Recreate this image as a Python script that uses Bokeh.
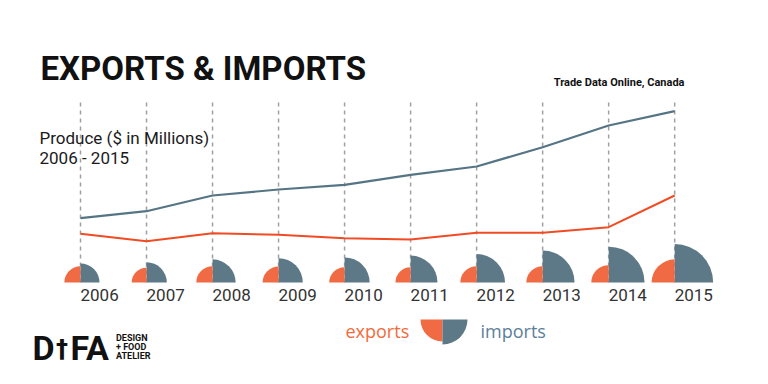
import math
from bokeh.plotting import figure
from bokeh.models import Range1d, Label, ColumnDataSource
from bokeh.core.properties import value
from bokeh.embed import file_html
from bokeh.resources import INLINE

# ---- data (units = relative index height) ----
years = [2006, 2007, 2008, 2009, 2010, 2011, 2012, 2013, 2014, 2015]
imports = [64.3, 71.3, 87.0, 93.0, 97.7, 107.7, 116.0, 135.3, 157.0, 171.3]
exports = [48.7, 41.3, 49.3, 47.7, 44.3, 43.0, 49.7, 49.7, 55.3, 87.0]
year_labels = [str(y) for y in years]

# ---- layout ----
W, H = 752, 368
OFF = 0                    # page offset of the canvas
STEP = 66.02               # px per year
X0 = 2006 - (80 - OFF) / STEP
BASE = 282                 # page y of the zero line
GUIDE_TOP = 182            # top of dashed guides, in data units
BSHIFT = 0.32              # baseline correction (em)

ORANGE = "#F06B44"
ORANGE_LINE = "#F04B23"
SLATE = "#5D7886"
SLATE_LINE = "#557585"


def px(x):
    return X0 + (x - OFF) / STEP


def py(y, fs=0):
    return BASE - (y - BSHIFT * fs)


def radius(v):
    # screen radius of the quarter discs (linear size scale)
    return 7.3 + 0.182 * v


p = figure(width=W, height=H, output_backend="svg", toolbar_location=None,
           x_range=Range1d(X0, X0 + W / STEP),
           y_range=Range1d(BASE - OFF - H, BASE - OFF),
           x_axis_location=None, y_axis_location=None, min_border=0,
           background_fill_color="white", border_fill_color="white")
p.outline_line_color = None
p.grid.visible = False

src = ColumnDataSource(dict(
    x=years, imp=imports, exp=exports, lbl=year_labels,
    zero=[0] * len(years), top=[GUIDE_TOP] * len(years),
    r_imp=[radius(v) for v in imports], r_exp=[radius(v) for v in exports],
))

# dashed guides
p.segment(x0="x", y0="zero", x1="x", y1="top", source=src,
          line_color="#a0a0a0", line_width=1.5, line_dash="4 4")

# lines
p.line("x", "imp", source=src, line_color=SLATE_LINE, line_width=2.2)
p.line("x", "exp", source=src, line_color=ORANGE_LINE, line_width=2)

# quarter discs
p.wedge(x="x", y="zero", radius="r_imp", radius_units="screen",
        start_angle=0, end_angle=math.pi / 2, source=src,
        fill_color=SLATE, line_color=None)
p.wedge(x="x", y="zero", radius="r_exp", radius_units="screen",
        start_angle=math.pi / 2, end_angle=math.pi, source=src,
        fill_color=ORANGE, line_color=None)

# year labels
p.text(x="x", y="zero", text="lbl", source=src, y_offset=17.5 - BSHIFT * 17,
       text_font=value("Roboto"), text_font_size="17px", text_color="#333333",
       text_align="left", text_baseline="alphabetic")


def label(x, y, text, fs, font="Roboto", style="normal", color="#111111", align="left"):
    p.add_layout(Label(x=px(x), y=py(y, fs), text=text, text_font=font,
                       text_font_style=style, text_font_size=f"{fs}px",
                       text_color=color, text_align=align, text_baseline="alphabetic"))


# ---- texts ----
label(40, 78.3, "EXPORTS & IMPORTS", 33, style="bold")
label(684, 85.5, "Trade Data Online, Canada", 11, style="bold", align="right")
label(39, 142.7, "Produce ($ in Millions)", 17, color="#1a1a1a")
label(39, 162.7, "2006 - 2015", 17, color="#1a1a1a")

# legend
label(345, 336, "exports", 18, font="Open Sans", color="#F26B3A")
label(480, 336, "imports", 18, font="Open Sans", color="#5B8099")
p.wedge(x=[px(442)], y=[py(319)], radius=22, radius_units="screen",
        start_angle=math.pi, end_angle=1.5 * math.pi,
        fill_color=ORANGE, line_color=None)
p.wedge(x=[px(442)], y=[py(319)], radius=25, radius_units="screen",
        start_angle=1.5 * math.pi, end_angle=2 * math.pi,
        fill_color=SLATE, line_color=None)

# logo
label(32, 358, "D", 34, style="bold")
label(61.5, 356, "\u2020", 24, font="DejaVu Sans", style="bold", align="center")
label(70, 358, "FA", 34, style="bold")
for txt, yb in (("DESIGN", 340.5), ("+ FOOD", 349.5), ("ATELIER", 358.5)):
    label(115.5, yb, txt, 9, style="bold")

open("out.html", "w").write(file_html(p, INLINE))
